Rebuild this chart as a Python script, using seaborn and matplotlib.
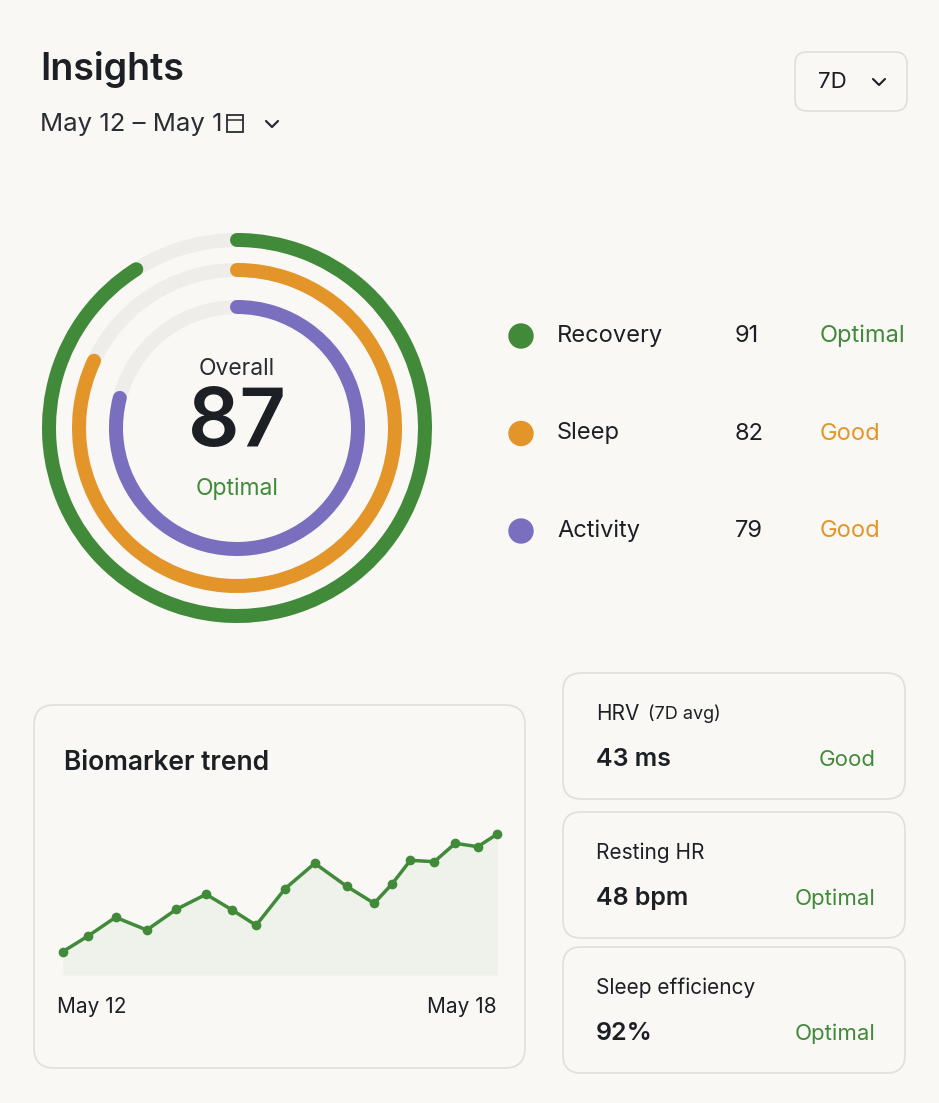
import numpy as np
import pandas as pd
import seaborn as sns
import matplotlib
matplotlib.use("Agg")
import matplotlib.pyplot as plt
from matplotlib.patches import Arc, FancyBboxPatch, Circle, Rectangle

sns.set_theme(style="white")
plt.rcParams['font.family'] = ['Inter', 'DejaVu Sans']

# ---- data ----
ring_names = ["Recovery", "Sleep", "Activity"]
ring_values = [91, 82, 79]
ring_status = ["Optimal", "Good", "Good"]
overall_value = 87
overall_status = "Optimal"
trend_day = [0, 0.35, 0.73, 1.16, 1.57, 1.98, 2.34, 2.67, 3.07, 3.48, 3.92, 4.30, 4.55, 4.80, 5.13, 5.42, 5.73, 6.0]
trend_value = [48.3, 64, 82.7, 70, 90.7, 105.7, 90, 74.7, 111.3, 136.7, 113.7, 96.7, 116.3, 139.7, 138.3, 156.7, 153.3, 166]
trend_labels = ["May 12", "May 18"]
card_titles = ["HRV", "Resting HR", "Sleep efficiency"]
card_sub = ["(7D avg)", "", ""]
card_values = ["43 ms", "48 bpm", "92%"]
card_status = ["Good", "Optimal", "Optimal"]

BG = "#faf8f5"
GREEN = "#418a3a"
ORANGE = "#e3952a"
PURPLE = "#7a6fbf"
TRACK = "#efedea"
DARK = "#1c1f24"
ring_colors = [GREEN, ORANGE, PURPLE]
status_colors = {"Optimal": GREEN, "Good": ORANGE}

W, H = 939, 1103
fig = plt.figure(figsize=(W / 100, H / 100), dpi=100, facecolor=BG)
ax = fig.add_axes([0, 0, 1, 1])
ax.set_xlim(0, W)
ax.set_ylim(H, 0)
ax.axis("off")
ax.set_facecolor(BG)

# header
ax.text(40, 70, "Insights", fontsize=27, fontweight="semibold", color=DARK, va="center")
ax.text(40, 124, "May 12 – May 1", fontsize=18.5, color="#2a2d33", va="center")
ax.add_patch(Rectangle((227, 115), 16, 17, fill=False, ec="#2a2d33", lw=1.3))
ax.plot([227, 243], [120, 120], color="#2a2d33", lw=1.1)
ax.plot([266, 272, 278], [121, 127, 121], color="#2a2d33", lw=1.6)
ax.add_patch(FancyBboxPatch((795, 52), 112, 59, boxstyle="round,pad=0,rounding_size=12",
                            fc=BG, ec="#e2dfda", lw=1.2))
ax.text(832, 82, "7D", fontsize=16, color=DARK, va="center", ha="center")
ax.plot([873, 879, 885], [79, 85, 79], color=DARK, lw=1.5)

# rings
cx, cy = 237, 428
radii = [188, 158, 121]
lw_pt = 14 * 0.72
for r, v, c in zip(radii, ring_values, ring_colors):
    ax.add_patch(Arc((cx, cy), 2 * r, 2 * r, theta1=0, theta2=360, color=TRACK, lw=lw_pt))
    ax.add_patch(Arc((cx, cy), 2 * r, 2 * r, theta1=270, theta2=270 + 360 * v / 100,
                     color=c, lw=lw_pt, capstyle="round"))
ax.text(cx, 369, "Overall", fontsize=16.5, color="#2a2d33", ha="center", va="center")
ax.text(cx, 425, str(overall_value), fontsize=58, fontweight="semibold", color=DARK, ha="center", va="center")
ax.text(cx, 489, overall_status, fontsize=16.5, color=GREEN, ha="center", va="center")

# legend
for i, (n, v, s, c) in enumerate(zip(ring_names, ring_values, ring_status, ring_colors)):
    y = 336 + i * 97.5
    ax.add_patch(Circle((521, y), 12, color=c))
    ax.text(557, y, n, fontsize=17, color=DARK, va="center")
    ax.text(735, y, str(v), fontsize=17, color=DARK, va="center")
    ax.text(820, y, s, fontsize=17, color=status_colors[s], va="center")

# trend card
ax.add_patch(FancyBboxPatch((34, 705), 491, 363, boxstyle="round,pad=0,rounding_size=20",
                            fc=BG, ec="#e2dfda", lw=1.2))
ax.text(64, 763, "Biomarker trend", fontsize=19, fontweight="semibold", color=DARK, va="center")
ax.text(57, 1007, trend_labels[0], fontsize=15, color=DARK, va="center")
ax.text(497, 1007, trend_labels[1], fontsize=15, color=DARK, va="center", ha="right")

# side cards
tops = [673, 812, 947]
for t, ti, sub, val, st in zip(tops, card_titles, card_sub, card_values, card_status):
    ax.add_patch(FancyBboxPatch((563, t), 342, 126, boxstyle="round,pad=0,rounding_size=18",
                                fc=BG, ec="#e2dfda", lw=1.2))
    ax.text(596, t + 41, ti, fontsize=15, color=DARK, va="center")
    if sub:
        ax.text(648, t + 41, sub, fontsize=13, color=DARK, va="center")
    ax.text(596, t + 87, val, fontsize=18, fontweight="semibold", color=DARK, va="center")
    ax.text(876, t + 87, st, fontsize=16, color=GREEN, va="center", ha="right")

# trend chart inset
px0, px1 = 62.7, 497.3
ytop, ybot = 834, 975
ymin = 48.3 - (ybot - 951.7) * (166 - 48.3) / (951.7 - 834)
iax = fig.add_axes([px0 / W, 1 - ybot / H, (px1 - px0) / W, (ybot - ytop) / H])
iax.set_xlim(0, 6)
iax.set_ylim(ymin, 166)
iax.axis("off")
iax.patch.set_alpha(0)
df = pd.DataFrame({"day": trend_day, "value": trend_value})
iax.fill_between(df["day"], df["value"], ymin, color="#e9eee4", alpha=0.6, lw=0)
sns.lineplot(data=df, x="day", y="value", ax=iax, color=GREEN, lw=2.5, marker="o",
             markersize=7, markeredgewidth=0, clip_on=False)

fig.savefig("out.png", dpi=100, facecolor=BG)
